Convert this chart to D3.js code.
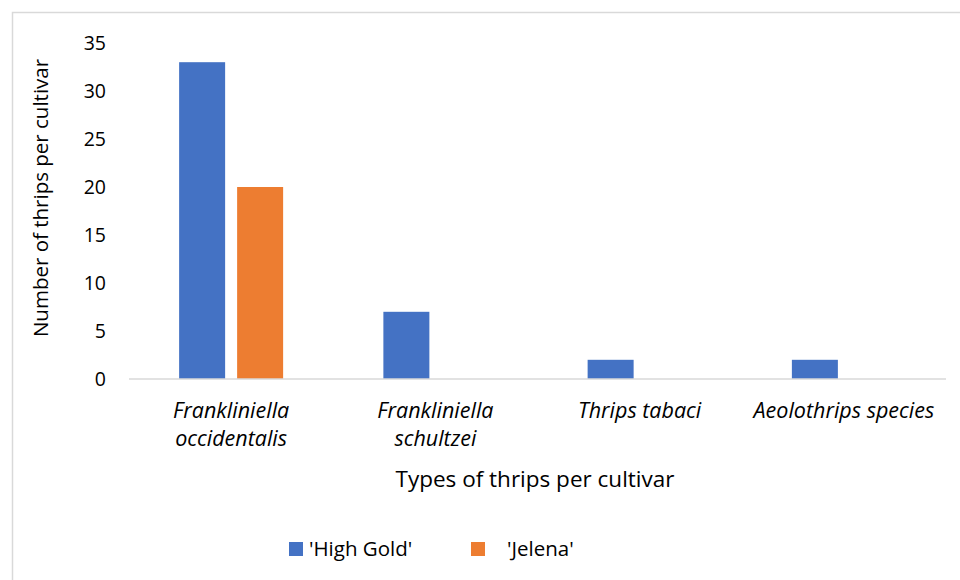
<!DOCTYPE html>
<html>
<head>
<meta charset="utf-8">
<script src="https://cdn.jsdelivr.net/npm/d3@7"></script>
<style>
  html, body { margin: 0; padding: 0; background: #fff; }
  svg { display: block; font-family: "Open Sans", "Noto Sans", sans-serif; }
</style>
</head>
<body>
<svg id="chart" width="960" height="580"></svg>
<script>
// Thrips counts per species for two cultivars
const categories = [
  ["Frankliniella", "occidentalis"],
  ["Frankliniella", "schultzei"],
  ["Thrips tabaci"],
  ["Aeolothrips species"]
];
const seriesNames = ["'High Gold'", "'Jelena'"];
const highGold = [33, 7, 2, 2];
const jelena = [20, 0, 0, 0];
const yTicks = [0, 5, 10, 15, 20, 25, 30, 35];
const colors = ["#4472c4", "#ed7d31"];

const svg = d3.select("#chart");

// outer frame
svg.append("rect")
  .attr("x", 12.5).attr("y", 12.5)
  .attr("width", 960).attr("height", 580)
  .attr("fill", "none").attr("stroke", "#d9d9d9").attr("stroke-width", 1.5);

const plot = { left: 129, right: 946, top: 43, bottom: 379 };

const x = d3.scaleBand()
  .domain(d3.range(categories.length))
  .range([plot.left, plot.right])
  .paddingInner(0).paddingOuter(0);

const y = d3.scaleLinear().domain([0, 35]).range([plot.bottom, plot.top]);

// bar layout inside each category band
const barW = 46, barGap = 12;
const groupW = barW * 2 + barGap;
const sub = d3.scaleOrdinal().domain([0, 1])
  .range([(x.bandwidth() - groupW) / 2, (x.bandwidth() - groupW) / 2 + barW + barGap]);

const series = [highGold, jelena];
series.forEach((vals, si) => {
  svg.append("g").selectAll("rect")
    .data(vals.map((v, i) => ({ v, i })).filter(d => d.v > 0))
    .join("rect")
    .attr("x", d => x(d.i) + sub(si))
    .attr("y", d => y(d.v))
    .attr("width", barW)
    .attr("height", d => y(0) - y(d.v))
    .attr("fill", colors[si]);
});

// baseline
svg.append("line")
  .attr("x1", plot.left).attr("x2", plot.right)
  .attr("y1", y(0)).attr("y2", y(0))
  .attr("stroke", "#d9d9d9").attr("stroke-width", 1.5);

// y axis labels
const yAxis = d3.axisLeft(y).tickValues(yTicks).tickSize(0).tickPadding(0);
const gy = svg.append("g").attr("transform", "translate(106,0)").call(yAxis);
gy.select(".domain").remove();
gy.selectAll("text")
  .attr("font-size", 19.5)
  .attr("fill", "#000")
  .attr("font-family", "Open Sans, sans-serif");

// category labels
const catG = svg.append("g").selectAll("text")
  .data(categories)
  .join("text")
  .attr("x", (d, i) => x(i) + x.bandwidth() / 2)
  .attr("y", 418)
  .attr("text-anchor", "middle")
  .attr("font-size", 21.5)
  .attr("font-style", "italic")
  .attr("fill", "#000");
catG.selectAll("tspan")
  .data(d => d)
  .join("tspan")
  .attr("x", function () { return this.parentNode.getAttribute("x"); })
  .attr("dy", (d, i) => i === 0 ? 0 : 28)
  .text(d => d);

// axis titles
svg.append("text")
  .attr("x", 535)
  .attr("y", 487)
  .attr("text-anchor", "middle")
  .attr("font-size", 22.5)
  .attr("fill", "#000")
  .text("Types of thrips per cultivar");

svg.append("text")
  .attr("transform", "translate(48,198) rotate(-90)")
  .attr("text-anchor", "middle")
  .attr("font-size", 20.5)
  .attr("fill", "#000")
  .text("Number of thrips per cultivar");

// legend
const legendX = [289, 471];
const legendTextX = [309, 507];
const lg = svg.append("g").selectAll("g")
  .data(seriesNames)
  .join("g");
lg.append("rect")
  .attr("x", (d, i) => legendX[i]).attr("y", 542)
  .attr("width", 14).attr("height", 14)
  .attr("fill", (d, i) => colors[i]);
lg.append("text")
  .attr("x", (d, i) => legendTextX[i]).attr("y", 556)
  .attr("font-size", 20.5)
  .attr("fill", "#000")
  .text(d => d);
</script>
</body>
</html>
